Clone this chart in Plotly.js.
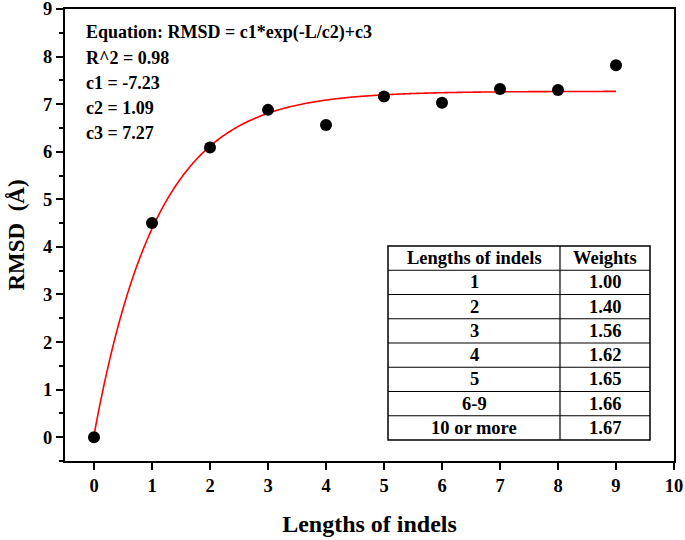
<!DOCTYPE html>
<html>
<head>
<meta charset="utf-8">
<script src="https://cdn.plot.ly/plotly-3.0.1.min.js"></script>
<style>html,body{margin:0;padding:0;background:#fff;}#chart{width:685px;height:540px;}</style>
</head>
<body>
<div id="chart"></div>
<script>
// Observed data
const lengths = [0, 1, 2, 3, 4, 5, 6, 7, 8, 9];
const rmsd = [0.0, 4.50, 6.09, 6.88, 6.56, 7.16, 7.03, 7.32, 7.30, 7.82];

// Fit parameters (as stated in the chart)
const c1 = -7.23, c2 = 1.09, c3 = 7.27, r2 = 0.98;

// Weights table
const tableHeader = ["Lengths of indels", "Weights"];
const tableLengths = ["1", "2", "3", "4", "5", "6-9", "10 or more"];
const tableWeights = ["1.00", "1.40", "1.56", "1.62", "1.65", "1.66", "1.67"];

// Fitted curve from the stated equation
const fitX = [], fitY = [];
for (let i = 0; i <= 450; i++) {
  const L = i * 9 / 450;
  fitX.push(L);
  fitY.push(c1 * Math.exp(-L / c2) + c3);
}

const FONT = "Liberation Serif, Times New Roman, serif";

const traces = [
  {
    x: fitX, y: fitY, type: "scatter", mode: "lines",
    line: {color: "#ff0000", width: 1.6, simplify: false}, hoverinfo: "skip", showlegend: false
  },
  {
    x: lengths, y: rmsd, type: "scatter", mode: "markers",
    marker: {color: "#000", size: 12}, showlegend: false
  }
];

const annText = [
  "Equation: RMSD = c1*exp(-L/c2)+c3",
  "R^2 = " + r2.toFixed(2),
  "c1 = " + c1.toFixed(2),
  "c2 = " + c2.toFixed(2),
  "c3 = " + c3.toFixed(2)
];

// Table geometry (paper coordinates)
const tL = 0.5304, tM = 0.8128, tR = 0.9606, tT = 0.4757, tB = 0.0465;
const nRows = tableLengths.length + 1;
const rowH = (tT - tB) / nRows;

const shapes = [];
shapes.push({type: "rect", xref: "paper", yref: "paper", x0: tL, x1: tR, y0: tB, y1: tT,
  line: {color: "#000", width: 1.5}, fillcolor: "#fff", layer: "above"});
shapes.push({type: "line", xref: "paper", yref: "paper", x0: tM, x1: tM, y0: tB, y1: tT,
  line: {color: "#000", width: 1.2}, layer: "above"});
for (let r = 1; r < nRows; r++) {
  const yy = tT - r * rowH;
  shapes.push({type: "line", xref: "paper", yref: "paper", x0: tL, x1: tR, y0: yy, y1: yy,
    line: {color: "#000", width: 1.2}, layer: "above"});
}

const annotations = annText.map((t, i) => ({
  xref: "paper", yref: "paper",
  x: (84 - 65) / 609, y: (461 - (33 + 25 * i)) / 452,
  xanchor: "left", yanchor: "middle",
  text: "<b>" + t + "</b>", showarrow: false,
  font: {family: FONT, size: 18, color: "#000"}
}));

const cols = [[tableHeader[0]].concat(tableLengths), [tableHeader[1]].concat(tableWeights)];
const colCenters = [(tL + tM) / 2, (tM + tR) / 2];
cols.forEach((col, c) => {
  col.forEach((txt, r) => {
    annotations.push({
      xref: "paper", yref: "paper",
      x: colCenters[c], y: tT - (r + 0.5) * rowH,
      xanchor: "center", yanchor: "middle",
      text: "<b>" + txt + "</b>", showarrow: false,
      font: {family: FONT, size: 18.5, color: "#000"}
    });
  });
});

const layout = {
  width: 685, height: 540,
  margin: {l: 65, r: 11, t: 9, b: 79},
  paper_bgcolor: "#fff", plot_bgcolor: "#fff",
  font: {family: FONT, color: "#000"},
  showlegend: false,
  xaxis: {
    range: [-0.5, 10.0001], tickmode: "linear", tick0: 0, dtick: 1,
    showgrid: false, zeroline: false,
    showline: true, linecolor: "#000", linewidth: 2, mirror: true,
    ticks: "outside", ticklen: 7, tickwidth: 2, tickcolor: "#000",
    ticklabeloverflow: "allow",
    tickfont: {family: FONT, size: 18.5, color: "#000", weight: "bold"},
    title: {text: "<b>Lengths of indels</b>", font: {family: FONT, size: 24, color: "#000"}, standoff: 20}
  },
  yaxis: {
    range: [-0.5, 9.0001], tickmode: "linear", tick0: 0, dtick: 1,
    showgrid: false, zeroline: false,
    showline: true, linecolor: "#000", linewidth: 2, mirror: true,
    ticks: "outside", ticklen: 7, tickwidth: 2, tickcolor: "#000",
    ticklabeloverflow: "allow",
    minor: {dtick: 0.5, tick0: 0, ticks: "outside", ticklen: 4, tickwidth: 2, tickcolor: "#000", showgrid: false},
    tickfont: {family: FONT, size: 18.5, color: "#000", weight: "bold"},
    title: {text: "<b>RMSD  (Å)</b>", font: {family: FONT, size: 23, color: "#000"}, standoff: 12}
  },
  shapes: shapes,
  annotations: annotations
};

Plotly.newPlot("chart", traces, layout, {displayModeBar: false, staticPlot: true});
</script>
</body>
</html>
